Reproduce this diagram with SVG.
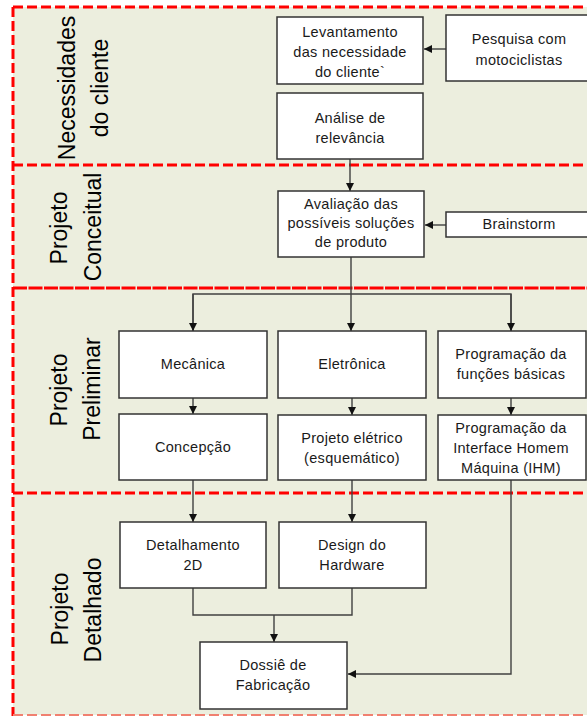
<svg xmlns="http://www.w3.org/2000/svg" width="587" height="716" viewBox="0 0 587 716">
  <defs>
    <marker id="arrow" viewBox="0 0 10 10" refX="10" refY="5" markerWidth="8" markerHeight="8" markerUnits="userSpaceOnUse" orient="auto">
      <path d="M0,0 L10,5 L0,10 z" fill="#111"/>
    </marker>
    <style>
      .box { fill: #ffffff; stroke: #333333; stroke-width: 1.5; }
      .lbl { font-family: "Liberation Sans", Arial, sans-serif; font-size: 14.5px; letter-spacing: 0.3px; fill: #1a1a1a; text-anchor: middle; }
      .phase { font-family: "Liberation Sans", Arial, sans-serif; font-size: 23px; fill: #000000; text-anchor: middle; }
      .sep { fill: none; stroke: #ff0000; stroke-width: 3; stroke-dasharray: 10 4; }
      .conn { fill: none; stroke: #404040; stroke-width: 1.4; }
    </style>
  </defs>

  <!-- canvas and lanes -->
  <rect x="0" y="0" width="587" height="716" fill="#ffffff"/>
  <rect x="13" y="7" width="580" height="708" fill="#ECEEDE"/>

  <g id="lanes">
    <line class="sep" x1="13" y1="7" x2="587" y2="7"/>
    <line class="sep" x1="13" y1="7" x2="13" y2="716"/>
    <line class="sep" x1="13" y1="165" x2="587" y2="165"/>
    <line class="sep" x1="13" y1="288" x2="587" y2="288" style="stroke-dasharray: 14 1.5"/>
    <line class="sep" x1="13" y1="493" x2="587" y2="493"/>
    <line class="sep" x1="13" y1="715" x2="587" y2="715" style="stroke: #f08070; stroke-width: 2"/>
  </g>

  <!-- phase titles -->
  <g id="phase-necessidades">
    <text class="phase" transform="translate(75,88) rotate(-90)">Necessidades</text>
    <text class="phase" transform="translate(108,88) rotate(-90)">do cliente</text>
  </g>
  <g id="phase-conceitual">
    <text class="phase" transform="translate(67,228) rotate(-90)">Projeto</text>
    <text class="phase" transform="translate(101,227) rotate(-90)">Conceitual</text>
  </g>
  <g id="phase-preliminar">
    <text class="phase" transform="translate(67,390) rotate(-90)">Projeto</text>
    <text class="phase" transform="translate(100,389) rotate(-90)">Preliminar</text>
  </g>
  <g id="phase-detalhado">
    <text class="phase" transform="translate(68,609) rotate(-90)">Projeto</text>
    <text class="phase" transform="translate(101,610) rotate(-90)">Detalhado</text>
  </g>

  <!-- connectors -->
  <g id="connectors">
    <line class="conn" x1="446" y1="49" x2="424" y2="49" marker-end="url(#arrow)"/>
    <line class="conn" x1="350" y1="159" x2="350" y2="191" marker-end="url(#arrow)"/>
    <line class="conn" x1="446" y1="225" x2="425" y2="225" marker-end="url(#arrow)"/>
    <polyline class="conn" points="351,257 351,294"/>
    <polyline class="conn" points="193,331 193,294 511,294 511,331"/>
    <line class="conn" x1="193" y1="294" x2="193" y2="331" marker-end="url(#arrow)"/>
    <line class="conn" x1="351" y1="294" x2="351" y2="331" marker-end="url(#arrow)"/>
    <line class="conn" x1="511" y1="294" x2="511" y2="331" marker-end="url(#arrow)"/>
    <line class="conn" x1="193" y1="398" x2="193" y2="414" marker-end="url(#arrow)"/>
    <line class="conn" x1="352" y1="398" x2="352" y2="415" marker-end="url(#arrow)"/>
    <line class="conn" x1="511" y1="398" x2="511" y2="415" marker-end="url(#arrow)"/>
    <line class="conn" x1="193" y1="480" x2="193" y2="522" marker-end="url(#arrow)"/>
    <line class="conn" x1="352" y1="480" x2="352" y2="522" marker-end="url(#arrow)"/>
    <polyline class="conn" points="193,588 193,615 352,615 352,588"/>
    <line class="conn" x1="274" y1="615" x2="274" y2="642" marker-end="url(#arrow)"/>
    <polyline class="conn" points="511,480 511,674 348,674" marker-end="url(#arrow)"/>
  </g>

  <!-- nodes -->
  <g id="levantamento">
    <rect class="box" x="277" y="17" width="146" height="67"/>
    <text class="lbl" x="350" y="37">Levantamento</text>
    <text class="lbl" x="350" y="57">das necessidade</text>
    <text class="lbl" x="350" y="77">do cliente`</text>
  </g>
  <g id="pesquisa">
    <rect class="box" x="446" y="15" width="150" height="66"/>
    <text class="lbl" x="519" y="44">Pesquisa com</text>
    <text class="lbl" x="519" y="65">motociclistas</text>
  </g>
  <g id="analise">
    <rect class="box" x="277" y="93" width="146" height="66"/>
    <text class="lbl" x="350" y="123">Análise de</text>
    <text class="lbl" x="350" y="143">relevância</text>
  </g>
  <g id="avaliacao">
    <rect class="box" x="278" y="191" width="146" height="66"/>
    <text class="lbl" x="351" y="209">Avaliação das</text>
    <text class="lbl" x="351" y="228">possíveis soluções</text>
    <text class="lbl" x="351" y="247">de produto</text>
  </g>
  <g id="brainstorm">
    <rect class="box" x="446" y="212" width="150" height="25"/>
    <text class="lbl" x="519" y="229">Brainstorm</text>
  </g>
  <g id="mecanica">
    <rect class="box" x="119" y="331" width="148" height="67"/>
    <text class="lbl" x="193" y="369">Mecânica</text>
  </g>
  <g id="eletronica">
    <rect class="box" x="278" y="331" width="148" height="67"/>
    <text class="lbl" x="352" y="369">Eletrônica</text>
  </g>
  <g id="programacao-basica">
    <rect class="box" x="438" y="331" width="148" height="67"/>
    <text class="lbl" x="511" y="359">Programação da</text>
    <text class="lbl" x="511" y="379">funções básicas</text>
  </g>
  <g id="concepcao">
    <rect class="box" x="119" y="414" width="148" height="66"/>
    <text class="lbl" x="193" y="452">Concepção</text>
  </g>
  <g id="projeto-eletrico">
    <rect class="box" x="278" y="415" width="148" height="65"/>
    <text class="lbl" x="352" y="443">Projeto elétrico</text>
    <text class="lbl" x="352" y="463">(esquemático)</text>
  </g>
  <g id="programacao-ihm">
    <rect class="box" x="438" y="415" width="148" height="65"/>
    <text class="lbl" x="511" y="433">Programação da</text>
    <text class="lbl" x="511" y="453">Interface Homem</text>
    <text class="lbl" x="511" y="473">Máquina (IHM)</text>
  </g>
  <g id="detalhamento">
    <rect class="box" x="120" y="522" width="146" height="66"/>
    <text class="lbl" x="193" y="550">Detalhamento</text>
    <text class="lbl" x="193" y="570">2D</text>
  </g>
  <g id="design-hardware">
    <rect class="box" x="279" y="522" width="147" height="66"/>
    <text class="lbl" x="352" y="550">Design do</text>
    <text class="lbl" x="352" y="570">Hardware</text>
  </g>
  <g id="dossie">
    <rect class="box" x="200" y="642" width="147" height="67"/>
    <text class="lbl" x="273" y="670">Dossiê de</text>
    <text class="lbl" x="273" y="690">Fabricação</text>
  </g>
</svg>
